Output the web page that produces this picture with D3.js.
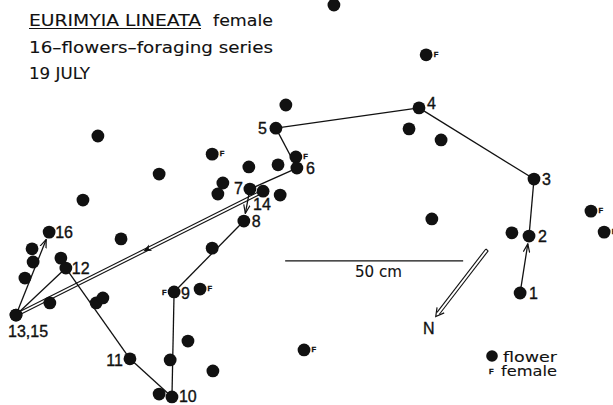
<!DOCTYPE html>
<html>
<head>
<meta charset="utf-8">
<script src="https://cdn.jsdelivr.net/npm/d3@7.9.0/dist/d3.min.js"></script>
<style>
  body { margin: 0; background: #fff; }
  svg { display: block; }
  text { font-family: "Liberation Sans", Arial, sans-serif; fill: #111; stroke: #111; stroke-width: 0.35; }
  text.wide { font-family: "DejaVu Sans", sans-serif; stroke-width: 0.1; }
</style>
</head>
<body>
<div id="chart"></div>
<script>
// ---- data: positions in cm (origin top-left of the plate) ----

// foraging series, in visiting order (13 and 15 are the same flower)
const visits = [
  [146.1, 82.3], [148.6, 66.3], [150.0, 50.3], [117.7, 30.3], [77.5, 36.0],
  [83.4, 47.2], [70.2, 53.1], [68.5, 62.1], [48.9, 82.0], [48.3, 111.5],
  [36.5, 100.8], [18.5, 75.3], [4.5, 88.5], [73.9, 53.7], [4.5, 88.5], [13.8, 65.2]
];
const visitLabels = ['1','2','3','4','5','6','7','8','9','10','11','12','13,15','14',null,'16'];

// flowers not visited
const flowers = [
  [93.8, 1.4], [114.9, 36.2], [123.9, 39.3], [80.3, 29.5], [143.8, 65.4], [121.3, 61.5],
  [69.9, 46.9], [78.1, 46.3], [27.5, 38.2], [44.7, 48.9], [23.3, 56.2], [62.6, 51.4],
  [61.2, 54.5], [78.7, 54.8], [59.6, 69.7], [52.8, 95.8], [47.8, 101.1], [59.8, 104.2],
  [44.7, 110.7], [27.0, 85.1], [28.9, 83.7], [17.1, 72.5], [14.0, 85.1], [34.0, 67.1],
  [7.0, 78.1], [9.3, 73.6], [9.0, 69.9]
];

// flowers with a female on them
const females = [
  [119.7, 15.4], [166.0, 59.3], [169.7, 65.2], [85.4, 98.3], [83.1, 44.1],
  [59.6, 43.3], [56.2, 81.2]
];
const femaleVisits = [9];          // visit 9 was also a female flower

const arrowSteps = [1, 7, 15];     // steps drawn with an arrowhead (from visit n to n+1)
const doubleStep = 13;             // 13 -> 14 and back 14 -> 15 drawn as a double line

const titleLines = ['16–flowers–foraging series', '19 JULY'];
const scaleBarCm = 50;

// ---- layout ----
const W = 613, H = 405;
const PX_PER_CM = 3.56;
const R = 6.4;

const x = d3.scaleLinear().domain([0, W / PX_PER_CM]).range([0, W]);
const y = d3.scaleLinear().domain([0, H / PX_PER_CM]).range([0, H]);

const svg = d3.select('#chart').append('svg')
  .attr('width', W).attr('height', H)
  .attr('viewBox', `0 0 ${W} ${H}`);

const defs = svg.append('defs');
defs.append('marker')
  .attr('id', 'head')
  .attr('viewBox', '0 -4 9 8')
  .attr('refX', 8.5).attr('refY', 0)
  .attr('markerUnits', 'userSpaceOnUse')
  .attr('markerWidth', 9).attr('markerHeight', 8)
  .attr('orient', 'auto')
  .append('path')
  .attr('d', 'M0,-3.2L8.5,0L0,3.2')
  .attr('fill', 'none').attr('stroke', '#111').attr('stroke-width', 1.2);

// ---- title ----
const title = svg.append('g').attr('font-size', 15);
title.append('text').attr('class', 'wide').attr('x', 29).attr('y', 26)
  .attr('textLength', 172).attr('lengthAdjust', 'spacingAndGlyphs')
  .text('EURIMYIA LINEATA');
title.append('line')
  .attr('x1', 29).attr('x2', 201).attr('y1', 28.5).attr('y2', 28.5)
  .attr('stroke', '#111').attr('stroke-width', 1.2);
title.append('text').attr('class', 'wide').attr('x', 213).attr('y', 26)
  .attr('textLength', 60).attr('lengthAdjust', 'spacingAndGlyphs')
  .text('female');
title.append('text').attr('class', 'wide').attr('x', 29).attr('y', 53)
  .attr('textLength', 244).attr('lengthAdjust', 'spacingAndGlyphs')
  .text(titleLines[0]);
title.append('text').attr('class', 'wide').attr('x', 29).attr('y', 79)
  .attr('textLength', 61).attr('lengthAdjust', 'spacingAndGlyphs')
  .text(titleLines[1]);

// ---- path of the fly ----
const paths = svg.append('g').attr('stroke', '#111').attr('fill', 'none');
const px = d => [x(d[0]), y(d[1])];

for (let i = 0; i < visits.length - 1; i++) {
  const step = i + 1;
  if (step === doubleStep + 1) continue;           // the return leg is part of the double line
  const [x1, y1] = px(visits[i]);
  const [x2, y2] = px(visits[i + 1]);
  const len = Math.hypot(x2 - x1, y2 - y1);
  const ux = (x2 - x1) / len, uy = (y2 - y1) / len;

  if (step === doubleStep) {
    const nx = -uy * 1.4, ny = ux * 1.4;
    [-1, 1].forEach(s => {
      paths.append('line')
        .attr('x1', x1 + s * nx).attr('y1', y1 + s * ny)
        .attr('x2', x2 + s * nx).attr('y2', y2 + s * ny)
        .attr('stroke-width', 1.1);
    });
    // small arrow half way
    const t = 0.53, mx = x1 + (x2 - x1) * t, my = y1 + (y2 - y1) * t;
    const ang = Math.atan2(y1 - y2, x1 - x2) * 180 / Math.PI;
    svg.append('path')
      .attr('d', 'M4,0L-4,-3.5L-2,0L-4,3.5Z')
      .attr('transform', `translate(${mx},${my}) rotate(${ang})`)
      .attr('fill', '#111');
    continue;
  }

  const line = paths.append('line')
    .attr('x1', x1).attr('y1', y1)
    .attr('stroke-width', 1.3);
  if (arrowSteps.includes(step)) {
    line.attr('x2', x2 - ux * (R + 1.5)).attr('y2', y2 - uy * (R + 1.5))
      .attr('marker-end', 'url(#head)');
  } else {
    line.attr('x2', x2).attr('y2', y2);
  }
}

// ---- flowers ----
const dots = svg.append('g').attr('fill', '#111');
dots.selectAll('circle.fl')
  .data([...flowers, ...females, ...visits])
  .join('circle')
  .attr('cx', d => x(d[0]))
  .attr('cy', d => y(d[1]))
  .attr('r', R);

// female marks
const fmarks = svg.append('g')
  .attr('font-size', 7.5).attr('font-weight', 'bold');
fmarks.selectAll('text.f')
  .data(females)
  .join('text')
  .attr('x', d => x(d[0]) + 7.5)
  .attr('y', d => y(d[1]) + 2)
  .text('F');
fmarks.selectAll('text.fv')
  .data(femaleVisits)
  .join('text')
  .attr('x', n => x(visits[n - 1][0]) - 7.5)
  .attr('y', n => y(visits[n - 1][1]) + 3)
  .attr('text-anchor', 'end')
  .text('F');

// visit numbers
const labelOffset = {
  '1': [9, 6, 'start'], '2': [9, 6, 'start'], '3': [8, 6, 'start'], '4': [8, 1, 'start'],
  '5': [-9, 6, 'end'], '6': [9, 6, 'start'], '7': [-7, 5, 'end'], '8': [8, 6, 'start'],
  '9': [7, 7, 'start'], '10': [7, 5, 'start'], '11': [-7, 7, 'end'], '12': [6, 6, 'start'],
  '13,15': [-8, 22, 'start'], '14': [-10, 19, 'start'], '16': [6, 6, 'start']
};
svg.append('g').attr('font-size', 16)
  .selectAll('text')
  .data(visits.map((v, i) => ({ v, lab: visitLabels[i] })).filter(d => d.lab))
  .join('text')
  .attr('x', d => x(d.v[0]) + labelOffset[d.lab][0])
  .attr('y', d => y(d.v[1]) + labelOffset[d.lab][1])
  .attr('text-anchor', d => labelOffset[d.lab][2])
  .text(d => d.lab);

// ---- scale bar ----
const sb0 = 80.1, sbY = 73.3;
svg.append('line')
  .attr('x1', x(sb0)).attr('x2', x(sb0 + scaleBarCm))
  .attr('y1', y(sbY)).attr('y2', y(sbY))
  .attr('stroke', '#111').attr('stroke-width', 1.2);
svg.append('text').attr('class', 'wide')
  .attr('x', 355).attr('y', 277)
  .attr('font-size', 15).attr('textLength', 47).attr('lengthAdjust', 'spacingAndGlyphs')
  .text(`${scaleBarCm} cm`);

// ---- north arrow ----
const nFrom = [136.8, 70.2], nTo = [122.4, 88.9];
{
  const [x1, y1] = px(nFrom), [x2, y2] = px(nTo);
  const len = Math.hypot(x2 - x1, y2 - y1);
  const ux = (x2 - x1) / len, uy = (y2 - y1) / len;
  const nx = -uy * 1.5, ny = ux * 1.5;
  const g = svg.append('g').attr('stroke', '#111').attr('fill', 'none');
  [-1, 1].forEach(s => {
    g.append('line')
      .attr('x1', x1 + s * nx).attr('y1', y1 + s * ny)
      .attr('x2', x2 - ux * 4 + s * nx).attr('y2', y2 - uy * 4 + s * ny)
      .attr('stroke-width', 1.1);
  });
  g.append('line').attr('x1', x1 - nx).attr('y1', y1 - ny).attr('x2', x1 + nx).attr('y2', y1 + ny)
    .attr('stroke-width', 1.1);
  const ang = Math.atan2(uy, ux) * 180 / Math.PI;
  g.append('path')
    .attr('d', 'M-8,-4.5L0,0L-8,4.5')
    .attr('transform', `translate(${x2},${y2}) rotate(${ang})`)
    .attr('stroke-width', 1.2);
  svg.append('text')
    .attr('x', x2 - 7).attr('y', y2 + 18)
    .attr('text-anchor', 'middle').attr('font-size', 16)
    .text('N');
}

// ---- legend ----
const legend = svg.append('g');
legend.append('circle').attr('cx', 492).attr('cy', 356).attr('r', 5.8).attr('fill', '#111');
legend.append('text').attr('class', 'wide').attr('x', 503).attr('y', 362)
  .attr('font-size', 14.5).attr('textLength', 54).attr('lengthAdjust', 'spacingAndGlyphs')
  .text('flower');
legend.append('text').attr('x', 489).attr('y', 374)
  .attr('font-size', 7.5).attr('font-weight', 'bold')
  .text('F');
legend.append('text').attr('class', 'wide').attr('x', 501).attr('y', 376)
  .attr('font-size', 14.5).attr('textLength', 56).attr('lengthAdjust', 'spacingAndGlyphs')
  .text('female');
</script>
</body>
</html>
